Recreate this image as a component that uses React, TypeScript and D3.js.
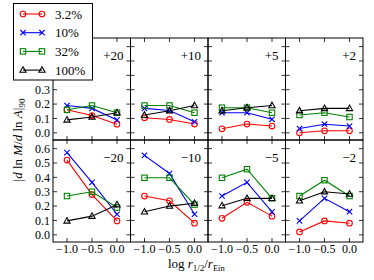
import React from 'react';
import * as d3 from 'd3';

// x positions shared by every panel
const xVals = [-1.0, -0.5, 0.0];
const xTicks = [-1.0, -0.5, 0.0];
const yTicks = [0, 0.1, 0.2, 0.3, 0.4, 0.5, 0.6];
const panelLabels = ['+20', '+10', '+5', '+2', '\u221220', '\u221210', '\u22125', '\u22122'];
const fractions = ['3.2%', '10%', '32%', '100%'];
const colors = ['#ff0000', '#0000ff', '#008000', '#000000'];
const markers = ['circle', 'x', 'square', 'triangle'];

// one row per panel, three values along x
const f3p2 = [
  [0.16, 0.12, 0.06], [0.105, 0.093, 0.061], [0.028, 0.061, 0.047], [0.0, 0.014, 0.014],
  [0.52, 0.28, 0.097], [0.27, 0.237, 0.081], [0.115, 0.226, 0.13], [0.02, 0.097, 0.081],
];
const f10 = [
  [0.19, 0.17, 0.09], [0.17, 0.155, 0.077], [0.14, 0.14, 0.094], [0.03, 0.06, 0.047],
  [0.572, 0.365, 0.143], [0.553, 0.427, 0.143], [0.27, 0.365, 0.16], [0.097, 0.254, 0.161],
];
const f32 = [
  [0.16, 0.19, 0.14], [0.19, 0.19, 0.14], [0.175, 0.175, 0.14], [0.124, 0.14, 0.11],
  [0.27, 0.30, 0.19], [0.397, 0.397, 0.21], [0.397, 0.457, 0.254], [0.27, 0.38, 0.27],
];
const f100 = [
  [0.09, 0.11, 0.14], [0.124, 0.154, 0.19], [0.154, 0.175, 0.19], [0.154, 0.17, 0.17],
  [0.097, 0.13, 0.21], [0.16, 0.20, 0.22], [0.203, 0.254, 0.254], [0.237, 0.30, 0.284],
];
const allSeries = [f3p2, f10, f32, f100];

const left = 53;
const top = 38;
const pw = 77.5;
const ph = 102;
const font = '"Liberation Serif", "DejaVu Serif", serif';

const Marker: React.FC<{ kind: string; x: number; y: number; color: string }> = ({ kind, x, y, color }) => {
  if (kind === 'circle') return <circle cx={x} cy={y} r={2.8} fill="none" stroke={color} strokeWidth={1.1} />;
  if (kind === 'square') return <rect x={x - 2.7} y={y - 2.7} width={5.4} height={5.4} fill="none" stroke={color} strokeWidth={1.1} />;
  if (kind === 'triangle')
    return <path d={`M${x},${y - 3.3}L${x + 3.1},${y + 2.2}L${x - 3.1},${y + 2.2}Z`} fill="none" stroke={color} strokeWidth={1.1} />;
  return <path d={`M${x - 2.7},${y - 2.7}L${x + 2.7},${y + 2.7}M${x - 2.7},${y + 2.7}L${x + 2.7},${y - 2.7}`} stroke={color} strokeWidth={1.1} />;
};

const Panel: React.FC<{ idx: number }> = ({ idx }) => {
  const col = idx % 4;
  const row = Math.floor(idx / 4);
  const x = d3.scaleLinear().domain([-1.28, 0.27]).range([0, pw]);
  const y = d3.scaleLinear().domain([-0.05, 0.66]).range([ph, 0]);
  const line = d3.line<number>().x((_, i) => x(xVals[i])).y((d) => y(d));
  const tl = 4;
  return (
    <g transform={`translate(${left + col * pw},${top + row * ph})`}>
      {allSeries.map((s, si) => (
        <g key={si}>
          <path d={line(s[idx]) || ''} fill="none" stroke={colors[si]} strokeWidth={1.1} />
          {s[idx].map((v, i) => (
            <Marker key={i} kind={markers[si]} x={x(xVals[i])} y={y(v)} color={colors[si]} />
          ))}
        </g>
      ))}
      <rect x={0} y={0} width={pw} height={ph} fill="none" stroke="#000" strokeWidth={1} />
      {yTicks.map((t) => (
        <g key={t} stroke="#000" strokeWidth={0.8}>
          <line x1={0} x2={tl} y1={y(t)} y2={y(t)} />
          <line x1={pw} x2={pw - tl} y1={y(t)} y2={y(t)} />
        </g>
      ))}
      {xTicks.map((t) => (
        <g key={t} stroke="#000" strokeWidth={0.8}>
          <line x1={x(t)} x2={x(t)} y1={0} y2={tl} />
          <line x1={x(t)} x2={x(t)} y1={ph} y2={ph - tl} />
        </g>
      ))}
      {col === 0 &&
        yTicks.map((t) => (
          <text key={t} x={-3} y={y(t)} dy="0.35em" textAnchor="end" fontSize={12} fontFamily={font}>
            {d3.format('.1f')(t)}
          </text>
        ))}
      {row === 1 &&
        xTicks.map((t) => (
          <text key={t} x={x(t)} y={ph + 11} textAnchor="middle" fontSize={12} fontFamily={font}>
            {d3.format('.1f')(t).replace('-', '\u2212')}
          </text>
        ))}
      <text x={pw - 7} y={22} textAnchor="end" fontSize={13} fontFamily={font}>
        {panelLabels[idx]}
      </text>
    </g>
  );
};

export default function App() {
  return (
    <svg width={374} height={280} style={{ position: 'absolute', left: 0, top: 0, background: '#fff' }}>
      {panelLabels.map((_, i) => (
        <Panel key={i} idx={i} />
      ))}
      {/* legend */}
      <g>
        <rect x={13.5} y={3.5} width={79} height={76.5} fill="#fff" stroke="#000" strokeWidth={1} />
        {fractions.map((f, i) => {
          const ly = 14 + i * 18.7;
          return (
            <g key={f}>
              <line x1={23} x2={42} y1={ly} y2={ly} stroke={colors[i]} strokeWidth={1.1} />
              <Marker kind={markers[i]} x={23} y={ly} color={colors[i]} />
              <Marker kind={markers[i]} x={42} y={ly} color={colors[i]} />
              <text x={55} y={ly} dy="0.35em" fontSize={13} fontFamily={font}>
                {f}
              </text>
            </g>
          );
        })}
      </g>
      <text x={168} y={268} fontSize={13} fontFamily={font}>
        log<tspan fontStyle="italic" dx={3}>r</tspan>
        <tspan fontSize={9} dy={3}>1/2</tspan>
        <tspan dy={-3}>/</tspan>
        <tspan fontStyle="italic">r</tspan>
        <tspan fontSize={8.5} dy={3}>Ein</tspan>
      </text>
      <text transform="translate(22,140) rotate(-90)" textAnchor="middle" fontSize={13} fontFamily={font}>
        |<tspan fontStyle="italic">d</tspan> ln <tspan fontStyle="italic">M</tspan>/<tspan fontStyle="italic">d</tspan> ln{' '}
        <tspan fontStyle="italic">A</tspan>|<tspan fontSize={9} dy={3}>90</tspan>
      </text>
    </svg>
  );
}
